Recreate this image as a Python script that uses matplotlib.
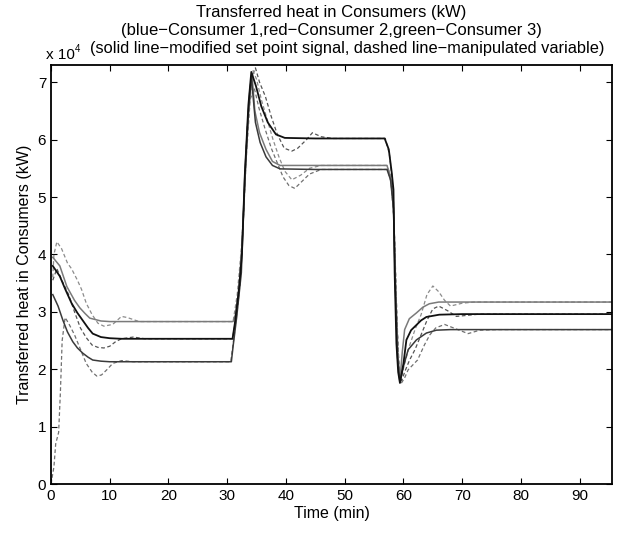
import matplotlib
matplotlib.use("Agg")
import matplotlib.pyplot as plt

plt.rcParams['font.family'] = ['Liberation Sans', 'DejaVu Sans']

# consumer 1 (dark), set point (solid)
t_sp1 = [0.3, 1.5, 2.4, 3.5, 4.5, 5.4, 6.3, 7.1, 8.5, 10, 12, 30.9, 31.3, 32.0, 32.5, 33.0, 33.6, 34.1,
         34.9, 35.8, 36.9, 38.3, 39.8, 45, 56.8, 57.5, 58.0, 58.3, 58.5, 58.8, 59.1, 59.4, 60.0, 60.5,
         61.3, 62.2, 63.0, 63.9, 66.1, 70, 96]
v_sp1 = [3.80, 3.62, 3.40, 3.15, 2.98, 2.85, 2.72, 2.62, 2.56, 2.54, 2.53, 2.53, 2.80, 3.40, 4.00, 5.40, 6.60, 7.18,
         6.93, 6.58, 6.30, 6.09, 6.03, 6.02, 6.02, 5.83, 5.43, 5.13, 3.68, 2.45, 1.95, 1.76, 2.10, 2.51,
         2.68, 2.77, 2.85, 2.91, 2.95, 2.96, 2.96]

# consumer 2 (medium), set point
t_sp2 = [0.3, 1.2, 2.0, 2.8, 3.7, 4.5, 5.4, 6.3, 7.1, 8.5, 10, 30.7, 31.0, 31.6, 32.4, 33.0, 33.6, 34.1,
         34.8, 35.6, 36.6, 37.7, 39.0, 45, 57.2, 57.8, 58.3, 58.6, 59.0, 59.4, 60.0, 60.8, 62.2, 63.9,
         65.6, 68, 96]
v_sp2 = [3.30, 3.10, 2.86, 2.65, 2.48, 2.37, 2.28, 2.21, 2.16, 2.14, 2.13, 2.13, 2.40, 2.90, 3.68, 5.40, 6.50, 7.10,
         6.30, 5.95, 5.70, 5.55, 5.49, 5.48, 5.48, 5.30, 4.80, 3.50, 2.20, 1.77, 2.05, 2.34, 2.51, 2.63,
         2.68, 2.69, 2.69]

# consumer 3 (light), set point
t_sp3 = [0.3, 1.5, 2.7, 4.0, 4.9, 5.8, 6.6, 8.5, 10, 31.0, 31.4, 32.0, 32.6, 33.2, 33.8, 34.2,
         34.7, 35.5, 36.6, 37.7, 39.0, 45, 57.2, 57.8, 58.3, 58.6, 59.0, 59.4, 59.8, 60.2, 61.0, 62.2,
         63.3, 64.4, 66.0, 96]
v_sp3 = [3.95, 3.80, 3.44, 3.20, 3.07, 2.97, 2.89, 2.84, 2.83, 2.83, 2.95, 3.40, 4.30, 5.70, 6.80, 7.15,
         6.50, 6.12, 5.83, 5.62, 5.55, 5.55, 5.55, 5.35, 4.90, 3.60, 2.30, 1.80, 2.30, 2.69, 2.88, 2.98,
         3.08, 3.14, 3.17, 3.17]

# manipulated variables (dashed)
t_mv1 = [0.3, 1.0, 1.8, 3.0, 4.0, 5.0, 6.0, 7.0, 8.0, 9.0, 10.0, 11.0, 12.0, 14.0, 16.0, 30.9, 31.5, 32.2,
         32.8, 33.4, 34.2, 34.8, 35.5, 36.5, 37.5, 38.5, 39.7, 41.0, 42.0, 43.5, 44.5, 46.0, 48.0, 56.9,
         57.6, 58.1, 58.5, 58.9, 59.3, 59.7, 60.2, 61.0, 62.0, 63.0, 64.0, 65.0, 66.0, 67.5, 69.0, 71.0,
         73.0, 96]
v_mv1 = [3.55, 3.75, 3.56, 3.30, 3.00, 2.72, 2.55, 2.42, 2.38, 2.37, 2.40, 2.48, 2.53, 2.56, 2.53, 2.53, 2.90, 3.50,
         4.80, 6.20, 7.10, 7.25, 7.00, 6.75, 6.40, 6.10, 5.85, 5.80, 5.85, 6.00, 6.12, 6.05, 6.02, 6.02,
         5.75, 5.30, 4.20, 2.80, 1.95, 1.80, 1.95, 2.15, 2.35, 2.60, 2.85, 3.05, 3.10, 3.02, 2.92, 2.94,
         2.96, 2.96]

t_mv2 = [0.0, 0.5, 0.8, 1.3, 1.6, 1.9, 2.4, 3.0, 4.0, 5.0, 6.0, 7.0, 7.8, 8.6, 9.6, 10.5, 12.0, 14.0,
         30.6, 31.2, 31.9, 32.6, 33.2, 33.9, 34.6, 35.4, 36.4, 37.5, 38.5, 39.5, 40.5, 41.5, 42.5, 44.0,
         46.0, 57.3, 57.9, 58.4, 58.8, 59.2, 59.6, 60.2, 60.8, 62.4, 63.6, 64.5, 65.5, 67.0, 69.0, 71.0,
         73.0, 76.0, 96]
v_mv2 = [0.00, 0.30, 0.70, 0.90, 1.60, 2.50, 2.90, 2.80, 2.60, 2.35, 2.10, 1.95, 1.88, 1.90, 2.00, 2.10, 2.15, 2.13,
         2.13, 2.60, 3.20, 4.30, 5.60, 6.70, 6.90, 6.55, 6.20, 5.85, 5.60, 5.35, 5.20, 5.15, 5.25, 5.40,
         5.48, 5.48, 5.25, 4.60, 3.20, 2.00, 1.75, 1.85, 1.99, 2.16, 2.43, 2.60, 2.72, 2.78, 2.70, 2.62,
         2.68, 2.69, 2.69]

t_mv3 = [0.3, 0.5, 1.0, 1.8, 2.8, 3.5, 4.5, 5.2, 6.0, 7.0, 8.0, 9.0, 10.5, 12.0, 13.0, 15.0, 31.0, 31.7,
         32.4, 33.0, 33.6, 34.4, 35.0, 35.8, 36.8, 37.8, 38.8, 39.8, 41.0, 42.5, 44.0, 46.0, 57.1, 57.8,
         58.4, 58.8, 59.2, 59.6, 60.2, 61.0, 62.0, 63.0, 64.0, 65.0, 66.0, 67.0, 68.0, 70.0, 72.0, 96]
v_mv3 = [3.60, 4.00, 4.22, 4.10, 3.85, 3.75, 3.55, 3.39, 3.15, 2.95, 2.80, 2.75, 2.78, 2.92, 2.90, 2.83, 2.83, 3.30,
         4.10, 5.20, 6.40, 7.20, 7.05, 6.70, 6.35, 6.00, 5.70, 5.45, 5.30, 5.38, 5.50, 5.55, 5.55, 5.40,
         4.60, 3.00, 2.00, 1.85, 2.10, 2.40, 2.70, 2.95, 3.30, 3.45, 3.35, 3.20, 3.10, 3.15, 3.17, 3.17]

fig = plt.figure(figsize=(6.17, 5.33), dpi=100)
ax = fig.add_axes([51 / 617, 49 / 533, 561 / 617, 419 / 533])

ax.plot(t_mv1, v_mv1, color='#555555', lw=0.9, ls=(0, (3, 2)))
ax.plot(t_mv2, v_mv2, color='#707070', lw=0.9, ls=(0, (3, 2)))
ax.plot(t_mv3, v_mv3, color='#8c8c8c', lw=0.9, ls=(0, (3, 2)))
ax.plot(t_sp3, v_sp3, color='#7a7a7a', lw=1.1)
ax.plot(t_sp2, v_sp2, color='#3a3a3a', lw=1.1)
ax.plot(t_sp1, v_sp1, color='#111111', lw=1.3)

ax.set_xlim(0, 95.5)
ax.set_ylim(0, 7.3)
ax.set_xticks(range(0, 91, 10))
ax.set_yticks(range(0, 8))
ax.tick_params(direction='in', top=True, right=True, labelsize=11, length=4, width=0.8)
for s in ax.spines.values():
    s.set_linewidth(1.3)

ax.set_xlabel('Time (min)', fontsize=11.5, labelpad=2)
ax.set_ylabel('Transferred heat in Consumers (kW)', fontsize=11.5, labelpad=4)

cx = (51 + 612) / 2 / 617
fig.text(cx, 1 - 12 / 533, 'Transferred heat in Consumers (kW)', ha='center', va='center', fontsize=12)
fig.text(cx, 1 - 30 / 533, '(blue\u2212Consumer 1,red\u2212Consumer 2,green\u2212Consumer 3)',
         ha='center', va='center', fontsize=12)
fig.text(cx + 16 / 617, 1 - 48 / 533, '(solid line\u2212modified set point signal, dashed line\u2212manipulated variable)',
         ha='center', va='center', fontsize=11.8)
fig.text(46 / 617, 1 - 55 / 533, 'x 10', ha='left', va='center', fontsize=11)
fig.text(75 / 617, 1 - 49 / 533, '4', ha='left', va='center', fontsize=7)

fig.savefig('out.png', dpi=100)
